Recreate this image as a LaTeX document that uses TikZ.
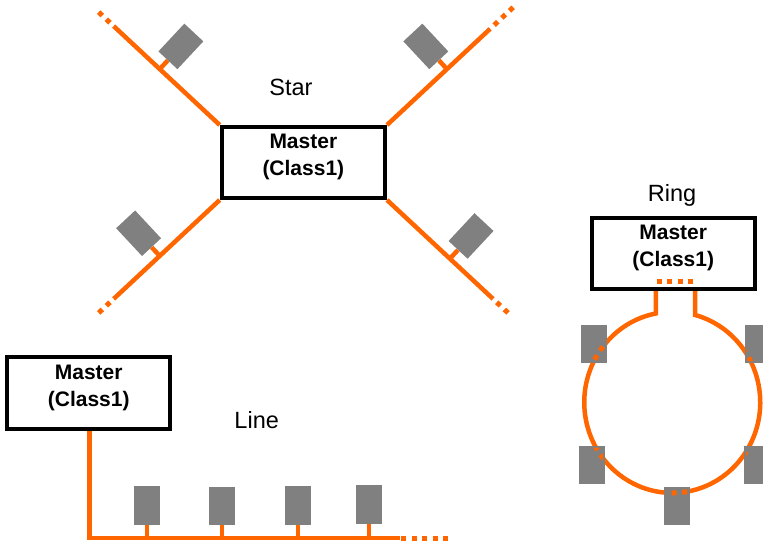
\documentclass[tikz,border=0pt]{standalone}
\usepackage{fontspec}
\setmainfont{Liberation Sans}
\usetikzlibrary{calc}
\definecolor{wireor}{HTML}{FF6600}
\definecolor{devgray}{HTML}{808080}
\pgfdeclarelayer{wires}
\pgfsetlayers{wires,main}
\begin{document}
\begin{tikzpicture}[x=1pt,y=1pt,
  wire/.style={draw=wireor,line width=4.5pt},
  wiredots/.style={draw=wireor,line width=5pt,dash pattern=on 5pt off 5.5pt},
  masterbox/.style={draw=black,line width=4pt,fill=white,minimum width=163.3pt,minimum height=71pt,inner sep=0pt},
  mastertext/.style={align=center,font=\bfseries\fontsize{21}{26.7}\selectfont,inner sep=0pt},
  toplabel/.style={font=\fontsize{23.5}{28}\selectfont,anchor=base,inner sep=0pt},
  device/.style={fill=devgray,minimum width=26pt,minimum height=38pt,inner sep=0pt},
]
\useasboundingbox (0,0) rectangle (763,544);

% ---------------- Star ----------------
\node[masterbox] (sm) at (303.35,381.5) {};
\node[mastertext] (smt) at ($(sm.center)+(0,5.3)$) {Master\\(Class1)};
\node[toplabel] (lstar) at (291,448) {Star};

% top left
\coordinate (tlj) at ($(sm.north west)+(137:82)$);
\coordinate (tle) at ($(sm.north west)+(137:145)$);
\coordinate (tla) at ($(sm.north west)+(137:150)$);
\coordinate (tlb) at ($(sm.north west)+(137:168)$);
\node[device,rotate=-43] (tld) at ($(tlj)+(47:31)$) {};
% top right
\coordinate (trj) at ($(sm.north east)+(43:82)$);
\coordinate (tre) at ($(sm.north east)+(43:141)$);
\coordinate (tra) at ($(sm.north east)+(43:146.5)$);
\coordinate (trb) at ($(sm.north east)+(43:173)$);
\node[device,rotate=43] (trd) at ($(trj)+(133:31)$) {};
% bottom left
\coordinate (blj) at ($(sm.south west)+(223:82)$);
\coordinate (ble) at ($(sm.south west)+(223:145)$);
\coordinate (bla) at ($(sm.south west)+(223:150)$);
\coordinate (blb) at ($(sm.south west)+(223:168)$);
\node[device,rotate=43] (bld) at ($(blj)+(133:31)$) {};
% bottom right
\coordinate (brj) at ($(sm.south east)+(-43:86)$);
\coordinate (bre) at ($(sm.south east)+(-43:145)$);
\coordinate (bra) at ($(sm.south east)+(-43:150)$);
\coordinate (brb) at ($(sm.south east)+(-43:168)$);
\node[device,rotate=-43] (brd) at ($(brj)+(47:31)$) {};

\begin{pgfonlayer}{wires}
  \draw[wire] (sm.north west) -- (tle);
  \draw[wiredots] (tla) -- (tlb);
  \draw[wire] (tlj) -- (tld.south);
  \draw[wire] (sm.north east) -- (tre);
  \draw[wiredots] (tra) -- (trb);
  \draw[wire] (trj) -- (trd.south);
  \draw[wire] (sm.south west) -- (ble);
  \draw[wiredots] (bla) -- (blb);
  \draw[wire] (blj) -- (bld.south);
  \draw[wire] (sm.south east) -- (bre);
  \draw[wiredots] (bra) -- (brb);
  \draw[wire] (brj) -- (brd.south);
\end{pgfonlayer}

% ---------------- Line ----------------
\node[masterbox] (lm) at (88.75,151) {};
\node[mastertext] (lmt) at ($(lm.center)+(0,5.3)$) {Master\\(Class1)};
\node[toplabel] (lline) at (256.7,115.7) {Line};
\coordinate (lc) at (89.5,6);
\coordinate (le) at (400,6);
\coordinate (la) at (401,6);
\coordinate (lb) at (449,6);
\node[device,minimum height=38.5pt] (ld1) at (147,38.5) {};
\node[device,minimum height=38.5pt] (ld2) at (222,38) {};
\node[device,minimum height=38.5pt] (ld3) at (298,38.5) {};
\node[device,minimum height=38.5pt] (ld4) at (369,39.5) {};
\begin{pgfonlayer}{wires}
  \draw[wire] (lc |- lm.south) -- (lc) -- (le);
  \draw[wiredots] (la) -- (lb);
  \draw[wire] (ld1.south) -- (ld1.south |- lc);
  \draw[wire] (ld2.south) -- (ld2.south |- lc);
  \draw[wire] (ld3.south) -- (ld3.south |- lc);
  \draw[wire] (ld4.south) -- (ld4.south |- lc);
\end{pgfonlayer}

% ---------------- Ring ----------------
\node[masterbox] (rm) at (673.2,290.85) {};
\node[mastertext] (rmt) at ($(rm.center)+(0,5.3)$) {Master\\(Class1)};
\node[toplabel] (lring) at (672,342.3) {Ring};
\coordinate (rc) at (672.25,141.6);
\coordinate (rl) at ($(rc)+(100.8:88 and 90.5)$);
\coordinate (rr) at ($(rc)+(74.9:88 and 90.5)$);
\begin{pgfonlayer}{wires}
  \draw[wire] (rl |- rm.south) -- (rl)
     arc[start angle=100.8, end angle=434.9, x radius=88pt, y radius=90.5pt]
     -- (rr |- rm.south);
\end{pgfonlayer}
\draw[wiredots] ($(rm.south)+(-16.5,8.9)$) -- ($(rm.south)+(20.5,8.9)$);

\node[device] (rd1) at (593.8,199.8) {};
\node[device] (rd2) at (592,79.3) {};
\node[device] (rd3) at (677,38.5) {};
\node[device] (rd4) at (757.7,199.8) {};
\node[device] (rd5) at (757,79.3) {};
\begin{scope}
  \clip ($(rd1.south west)+(2,2)$) rectangle ($(rd1.north east)-(2,2)$)
        ($(rd2.south west)+(2,2)$) rectangle ($(rd2.north east)-(2,2)$)
        ($(rd3.south west)+(2,2)$) rectangle ($(rd3.north east)-(2,2)$)
        ($(rd4.south west)+(2,2)$) rectangle ($(rd4.north east)-(2,2)$)
        ($(rd5.south west)+(2,2)$) rectangle ($(rd5.north east)-(2,2)$);
  \draw[wiredots] (rc) ellipse [x radius=88pt, y radius=90.5pt];
\end{scope}
\end{tikzpicture}
\end{document}
